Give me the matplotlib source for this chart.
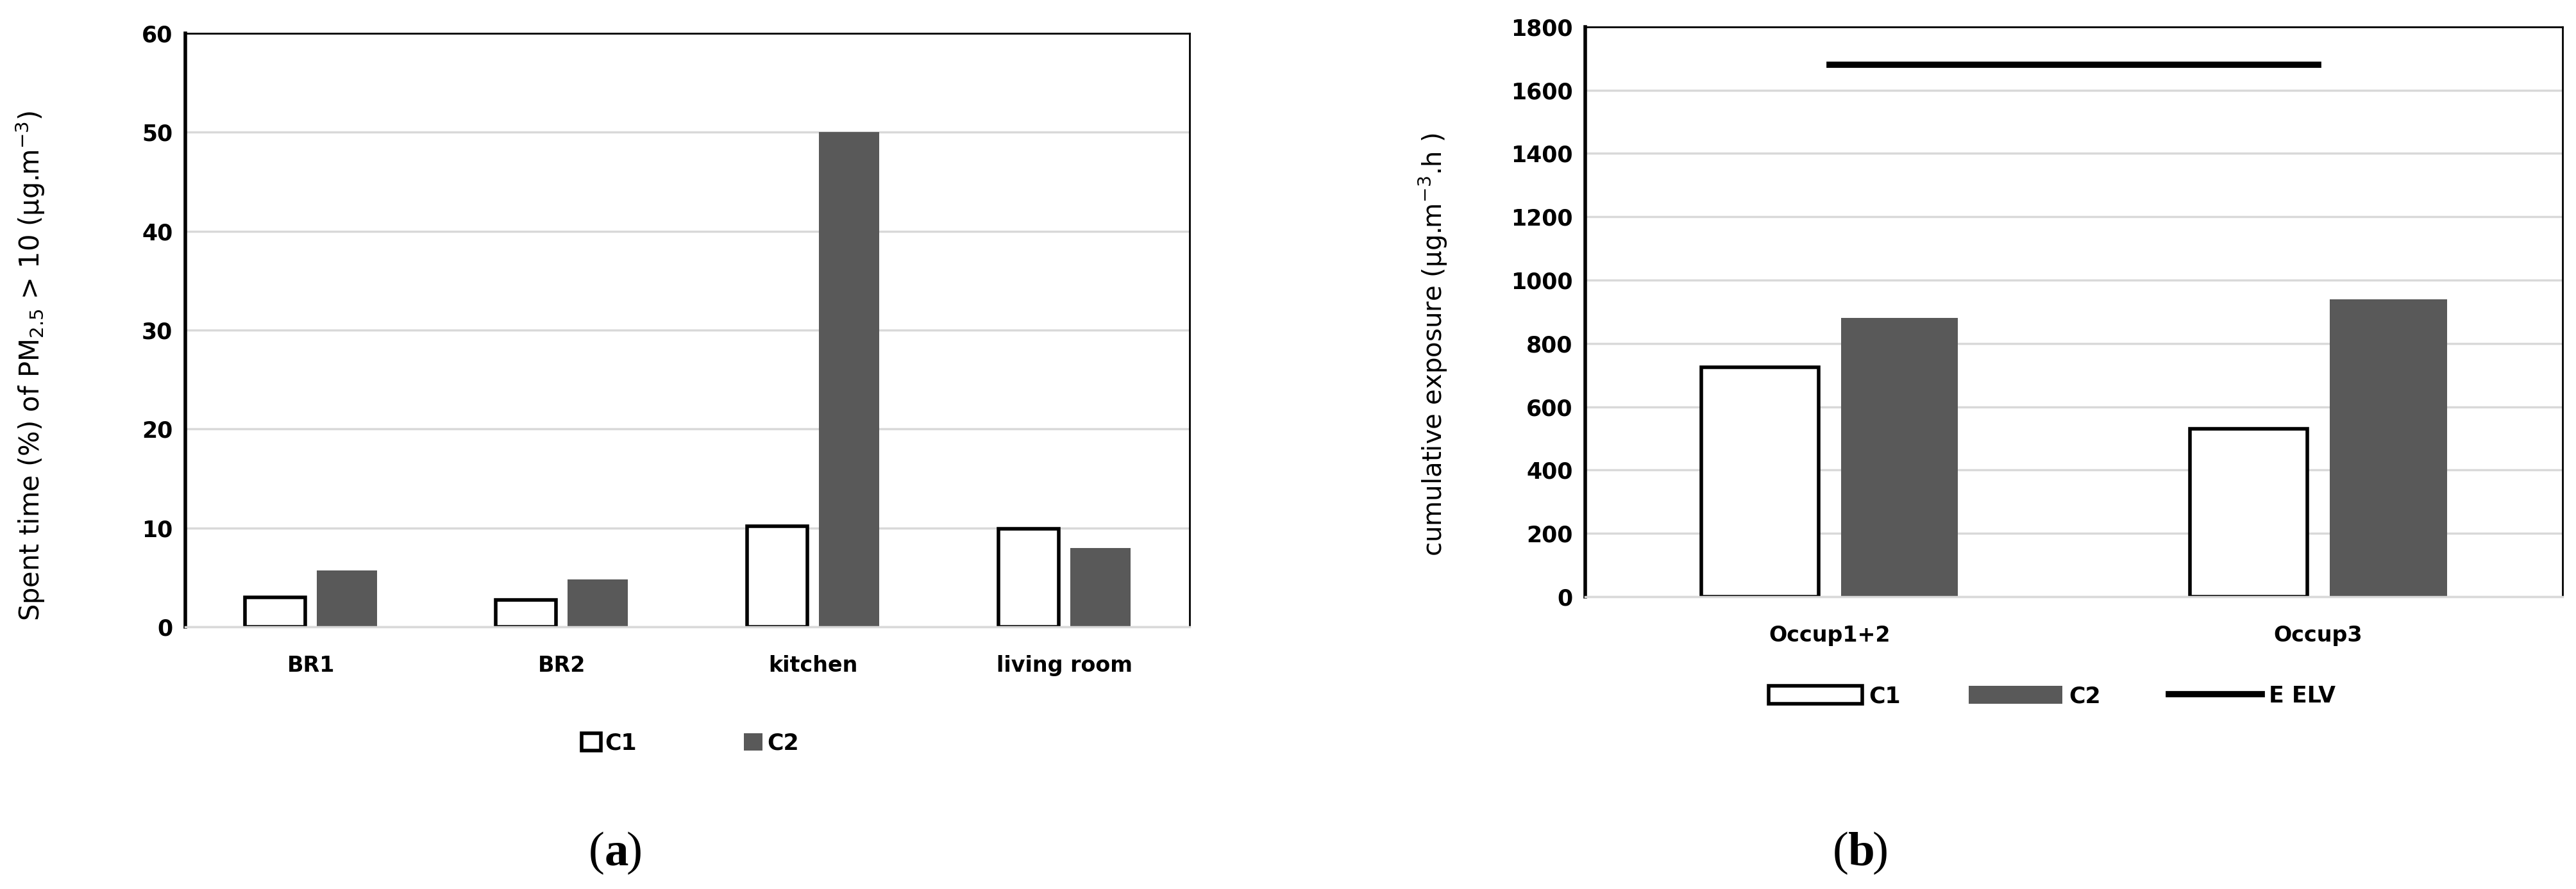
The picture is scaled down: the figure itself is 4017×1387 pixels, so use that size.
import matplotlib
matplotlib.use("Agg")
import matplotlib.pyplot as plt
import numpy as np

# panel (a) data
rooms = ["BR1", "BR2", "kitchen", "living room"]
c1_time = [3.0, 2.7, 10.2, 9.9]
c2_time = [5.7, 4.8, 50.0, 8.0]

# panel (b) data
occupants = ["Occup1+2", "Occup3"]
c1_exp = [725, 530]
c2_exp = [880, 940]
elv = [1680, 1680]

plt.rcParams["font.family"] = ["Liberation Sans Narrow", "DejaVu Sans"]
plt.rcParams["mathtext.default"] = "regular"

dark = "#595959"
grid = "#d9d9d9"

fig = plt.figure(figsize=(40.17, 13.87), dpi=100)
ax1 = fig.add_axes([0.0719, 0.2949, 0.390, 0.6676])
ax2 = fig.add_axes([0.6154, 0.3288, 0.3794, 0.641])

w = 0.24
off = 0.143


def style(ax, ymax, step):
    ax.set_ylim(0, ymax)
    ax.set_yticks(np.arange(0, ymax + step, step))
    ax.yaxis.grid(True, color=grid, linewidth=2.5)
    ax.set_axisbelow(True)
    ax.tick_params(length=0, labelsize=25, pad=14)
    ax.tick_params(axis="x", labelsize=24, pad=32)
    for lab in ax.get_xticklabels() + ax.get_yticklabels():
        lab.set_fontweight("bold")
    ax.spines["left"].set_linewidth(4)
    ax.spines["top"].set_linewidth(2)
    ax.spines["right"].set_linewidth(2)
    ax.spines["bottom"].set_color(grid)
    ax.spines["bottom"].set_linewidth(2.5)


# (a)
x = np.arange(len(rooms))
ax1.bar(x - off, c1_time, w, facecolor="white", edgecolor="black", linewidth=4, label="C1")
ax1.bar(x + off, c2_time, w, color=dark, label="C2")
ax1.set_xlim(-0.5, len(rooms) - 0.5)
ax1.set_xticks(x)
ax1.set_xticklabels(rooms)
style(ax1, 60, 10)
ax1.set_ylabel("Spent time (%) of PM$_{2.5}$ > 10 (µg.m$^{-3}$)", fontsize=30)
ax1.yaxis.set_label_coords(-0.138, 0.44)
fig.legend(*ax1.get_legend_handles_labels(), loc="center", bbox_to_anchor=(0.268, 0.164),
           ncol=2, frameon=False, handlelength=0.85, handleheight=0.85,
           handletextpad=0.2, columnspacing=4.8, prop={"weight": "bold", "size": 25})

# (b)
x2 = np.arange(len(occupants))
b1 = ax2.bar(x2 - off, c1_exp, w, facecolor="white", edgecolor="black", linewidth=4, label="C1")
b2 = ax2.bar(x2 + off, c2_exp, w, color=dark, label="C2")
ln, = ax2.plot(x2, elv, color="black", linewidth=7, label="E ELV")
ax2.set_xlim(-0.5, len(occupants) - 0.5)
ax2.set_xticks(x2)
ax2.set_xticklabels(occupants)
style(ax2, 1800, 200)
ax2.set_ylabel("cumulative exposure (µg.m$^{-3}$.h )", fontsize=29)
ax2.yaxis.set_label_coords(-0.139, 0.442)
fig.legend([b1, b2, ln], ["C1", "C2", "E ELV"], loc="center", bbox_to_anchor=(0.7966, 0.217),
           ncol=3, frameon=False, handlelength=4.2, handleheight=0.9,
           handletextpad=0.3, columnspacing=3.05, prop={"weight": "bold", "size": 25})

cap = dict(family="Liberation Serif", fontsize=54, va="center")
fig.text(0.2347, 0.04, "(", ha="right", **cap)
fig.text(0.2347, 0.04, "a", weight="bold", ha="left", **cap)
fig.text(0.2430, 0.04, ")", ha="left", **cap)
fig.text(0.7175, 0.04, "(", ha="right", **cap)
fig.text(0.7175, 0.04, "b", weight="bold", ha="left", **cap)
fig.text(0.7268, 0.04, ")", ha="left", **cap)

fig.savefig("out.png", dpi=100)
